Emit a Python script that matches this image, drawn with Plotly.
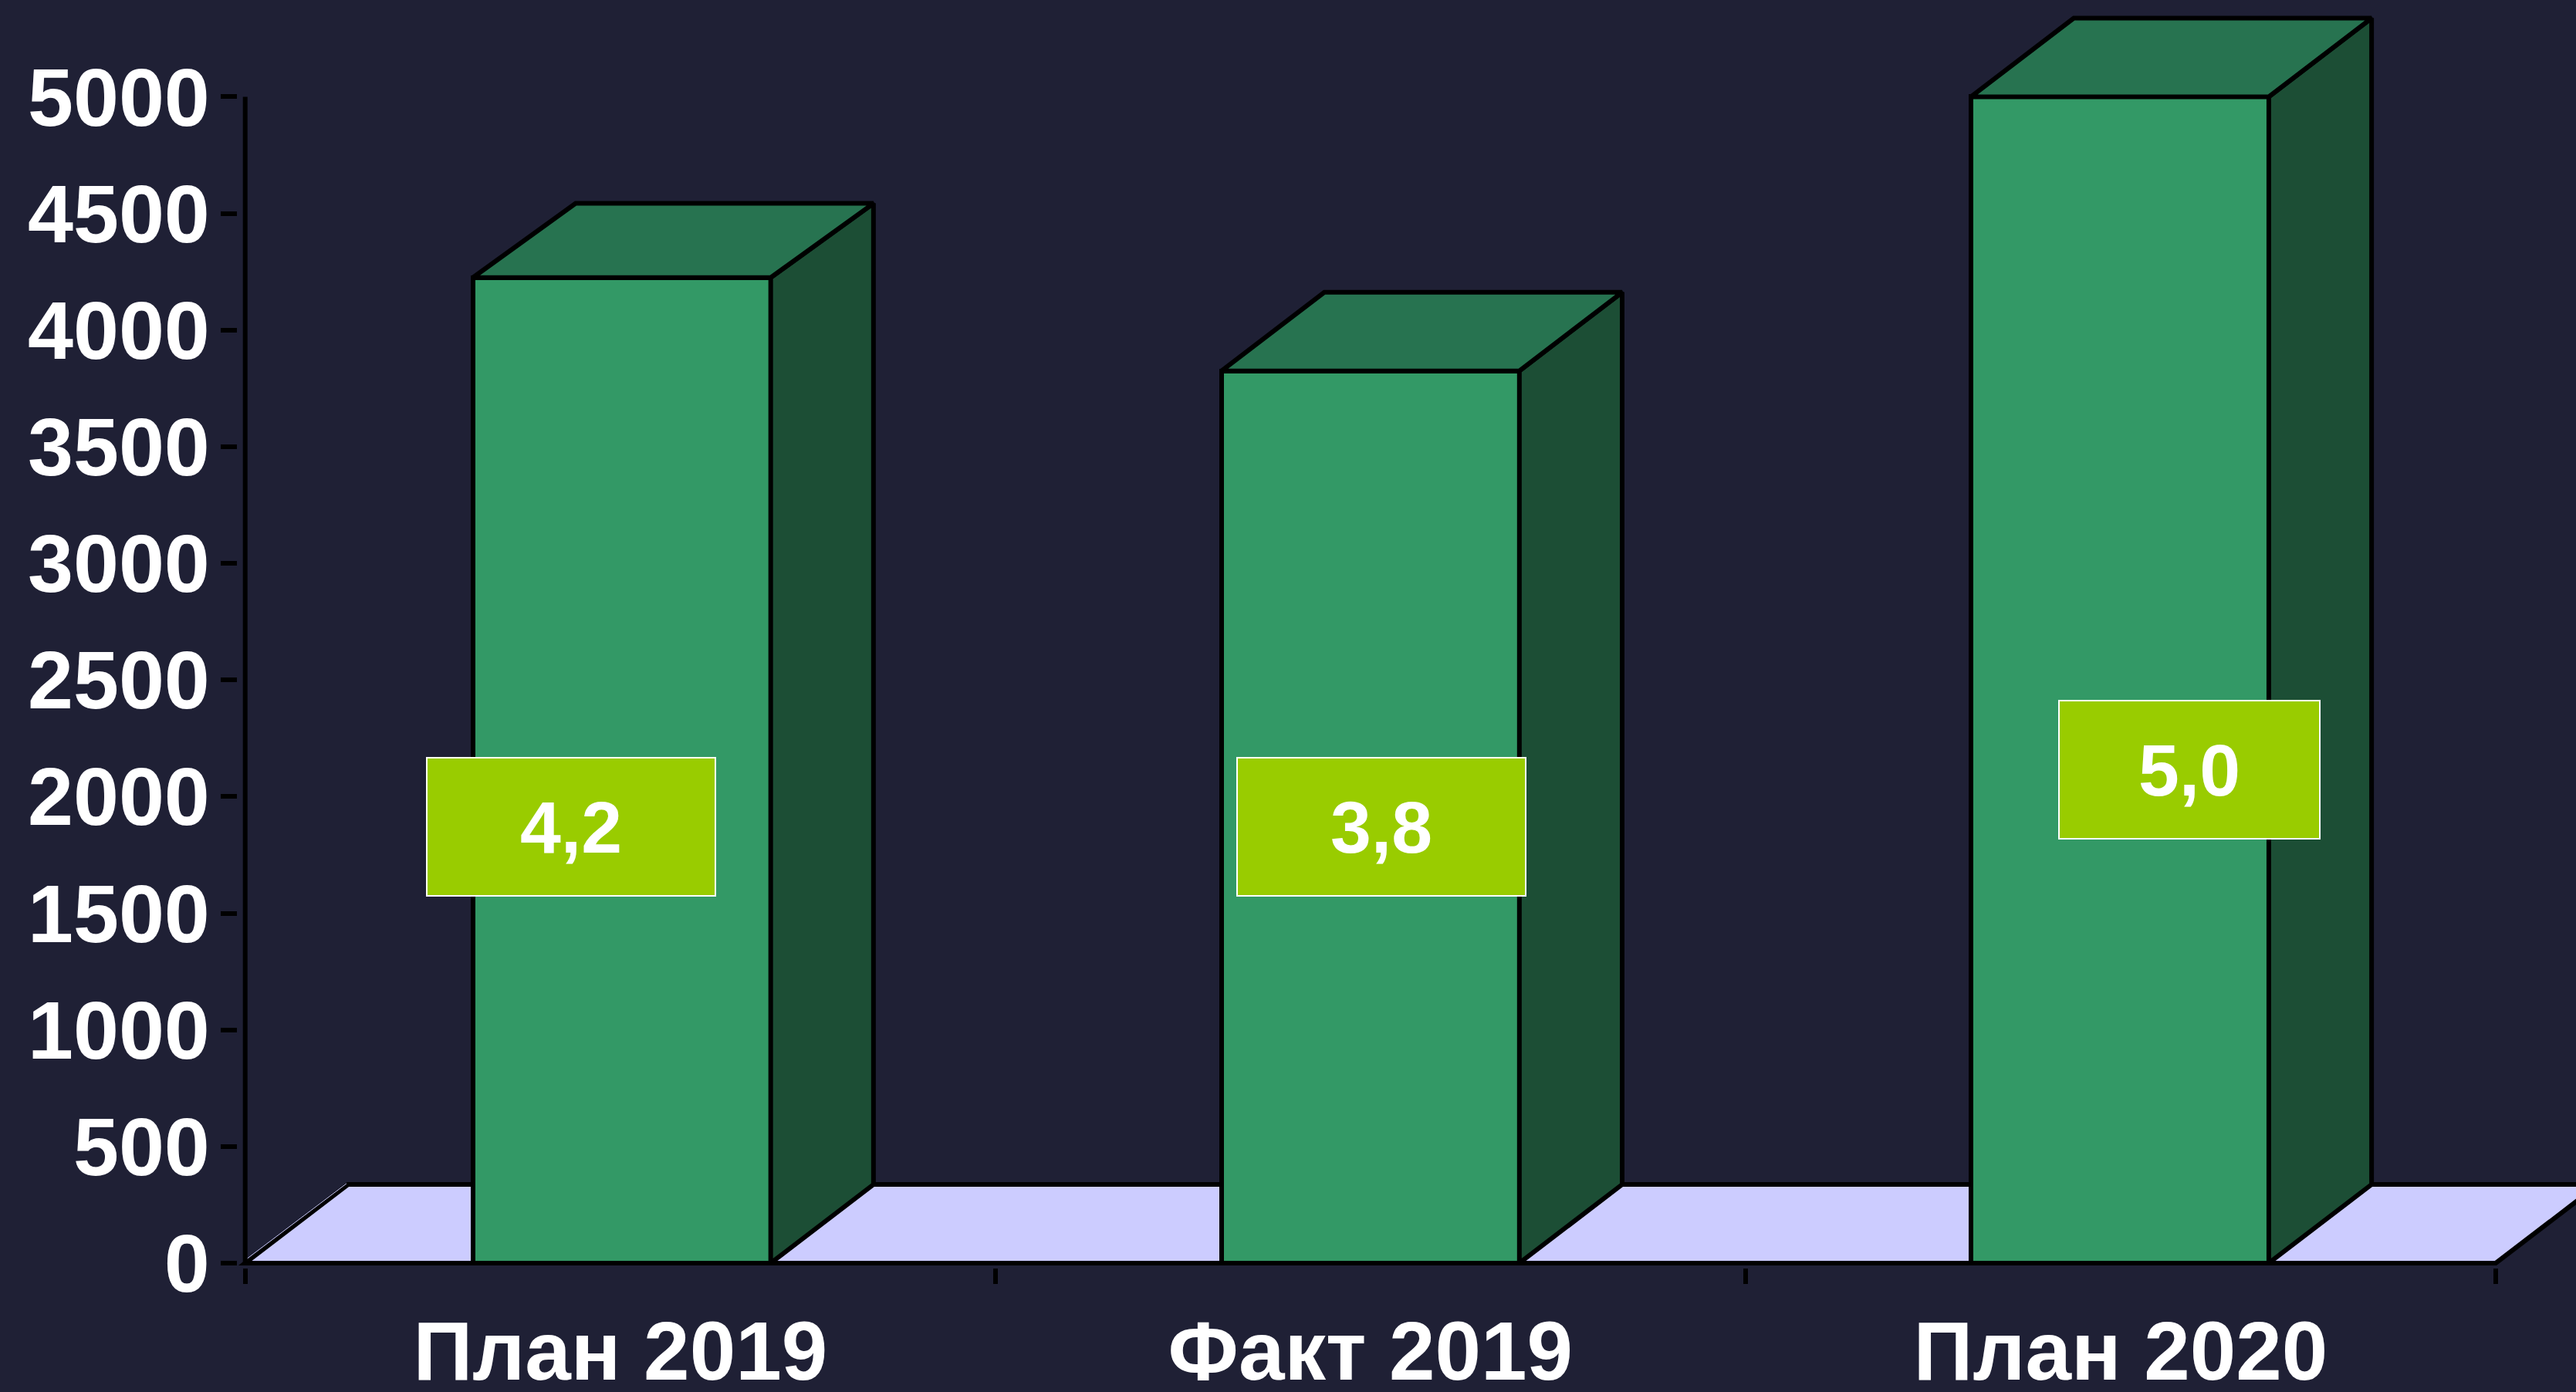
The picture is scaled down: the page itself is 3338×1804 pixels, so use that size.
import plotly.graph_objects as go

categories = ["План 2019", "Факт 2019", "План 2020"]
positions = [0.502, 1.5, 2.499]
values = [4225, 3825, 5000]
value_labels = ["4,2", "3,8", "5,0"]
y_ticks = [0, 500, 1000, 1500, 2000, 2500, 3000, 3500, 4000, 4500, 5000]
x_edges = [0, 1, 2, 3]

BG = "#1F2035"
FRONT = "#339966"
TOP = "#277350"
SIDE = "#1C4E35"
FLOOR = "#CCCCFF"
BADGE = "#99CC00"
FONT = "Liberation Sans"
LW = 6

BAR_W = 0.397
DX = 0.137                # depth offset, category units
DY = 337                  # floor depth, value units
bar_depth = [318, 337, 337]

fig = go.Figure()

fig.add_trace(go.Bar(x=positions, y=values, width=BAR_W,
                     marker=dict(color=FRONT, line=dict(color="black", width=LW)),
                     hoverinfo="skip", showlegend=False))

for xc, v, d in zip(positions, values, bar_depth):
    l, r = xc - BAR_W / 2, xc + BAR_W / 2
    fig.add_trace(go.Scatter(x=[r, r + DX, r + DX, r, r], y=[0, DY, v + d, v, 0],
                             mode="lines", fill="toself", fillcolor=SIDE,
                             line=dict(color="black", width=LW), hoverinfo="skip",
                             showlegend=False, cliponaxis=False))
    fig.add_trace(go.Scatter(x=[l, l + DX, r + DX, r, l], y=[v, v + d, v + d, v, v],
                             mode="lines", fill="toself", fillcolor=TOP,
                             line=dict(color="black", width=LW), hoverinfo="skip",
                             showlegend=False, cliponaxis=False))

# axis lines stop at the last tick / last category edge
fig.add_trace(go.Scatter(x=[0, 0], y=[0, y_ticks[-1]], mode="lines",
                         line=dict(color="black", width=LW), hoverinfo="skip",
                         showlegend=False, cliponaxis=False))
fig.add_trace(go.Scatter(x=[0, x_edges[-1]], y=[0, 0], mode="lines",
                         line=dict(color="black", width=LW), hoverinfo="skip",
                         showlegend=False, cliponaxis=False))

# floor
fig.add_shape(type="path", layer="below",
              path=f"M 0 0 L {DX} {DY} L {x_edges[-1] + DX} {DY} L {x_edges[-1]} 0 Z",
              fillcolor=FLOOR, line=dict(color="black", width=LW))
fig.add_shape(type="line", layer="below", x0=-0.002, y0=8, x1=DX - 0.002, y1=DY + 4,
              line=dict(color=FLOOR, width=1))

badge_xc = [0.434, 1.515, 2.592]
badge_y = [1869, 1869, 2116]
badge_w = [372, 372, 336]
for x, y, w, t in zip(badge_xc, badge_y, badge_w, value_labels):
    fig.add_annotation(x=x, y=y, xref="x", yref="y", text=f"<b>{t}</b>", showarrow=False,
                       font=dict(family=FONT, size=95, color="white"),
                       bgcolor=BADGE, bordercolor="white", borderwidth=2, borderpad=0,
                       width=w, height=177, align="center", valign="middle")

fig.update_layout(
    width=3338, height=1804, autosize=False,
    margin=dict(l=308.3, r=0, t=0, b=161, pad=0, autoexpand=False),
    paper_bgcolor=BG, plot_bgcolor="rgba(0,0,0,0)",
    bargap=0, showlegend=False,
    font=dict(family=FONT, color="white"),
    xaxis=dict(range=[-0.01, 3.107], tickmode="array", tickvals=[0.5, 1.5, 2.5],
               ticktext=[f"<b>{c}</b>" for c in categories],
               ticks="", showgrid=False, zeroline=False, showline=False,
               automargin=False,
               tickfont=dict(family=FONT, size=107, color="white"),
               ticklabelstandoff=37,
               minor=dict(tickmode="array", tickvals=x_edges, ticks="outside",
                          ticklen=20, tickwidth=LW, tickcolor="black", showgrid=False)),
    yaxis=dict(range=[-20, 5415], tickmode="array", tickvals=y_ticks,
               ticktext=[f"<b>{t}</b>" for t in y_ticks],
               ticks="outside", ticklen=21, tickwidth=LW, tickcolor="black",
               showgrid=False, zeroline=False, showline=False,
               automargin=False,
               tickfont=dict(family=FONT, size=106, color="white"),
               ticklabelstandoff=-7),
)

fig.write_html("out.html", config=dict(displayModeBar=False),
               post_script="document.body.style.margin='0';document.body.style.overflow='hidden';")
